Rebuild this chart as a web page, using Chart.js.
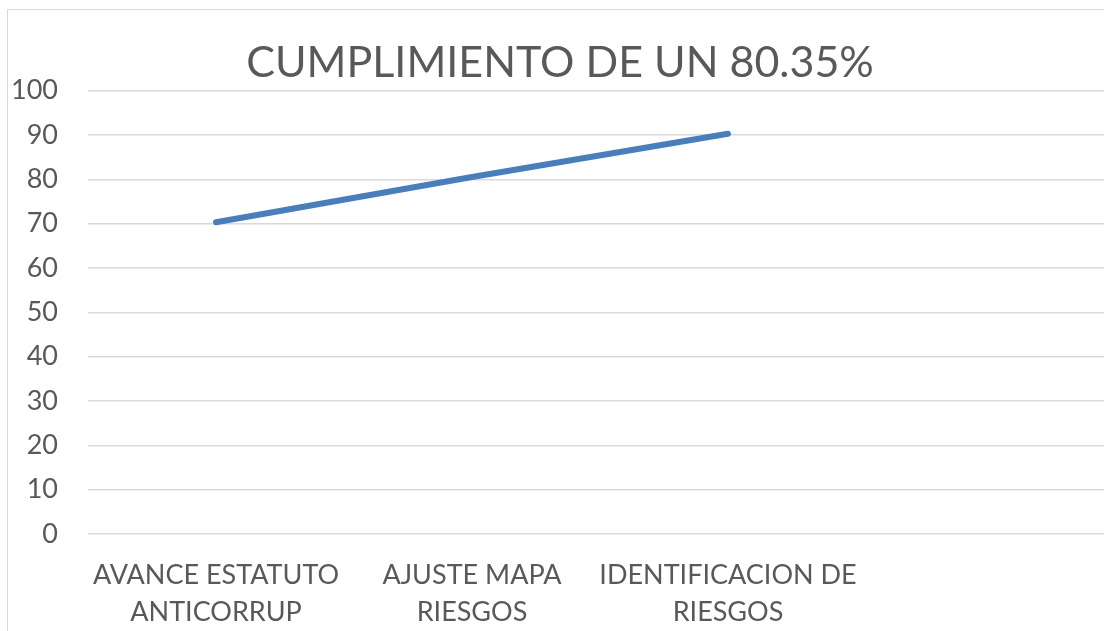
<!DOCTYPE html>
<html>
<head>
<meta charset="utf-8">
<script src="https://cdn.jsdelivr.net/npm/chart.js@4/dist/chart.umd.min.js"></script>
<style>
  html, body { margin: 0; padding: 0; background: #ffffff; overflow: hidden; }
  #frame {
    position: absolute; left: 7px; top: 9px;
    width: 1130px; height: 640px;
    border-left: 1px solid #d9d9d9; border-top: 1px solid #d9d9d9;
    background: #ffffff;
  }
  #wrap { position: absolute; left: 0; top: 0; width: 1112px; height: 630px; }
</style>
</head>
<body>
<div id="frame"><div id="wrap"><canvas id="chart"></canvas></div></div>
<script>
// Categories (one empty slot at the end, as in the workbook range)
const categories = [
  ['AVANCE ESTATUTO', 'ANTICORRUP'],
  ['AJUSTE MAPA', 'RIESGOS'],
  ['IDENTIFICACION DE', 'RIESGOS'],
  ''
];
// Percentage of compliance per item
const cumplimiento = [70.3, 80.5, 90.25, null];
// Value axis
const yTicks = [0, 10, 20, 30, 40, 50, 60, 70, 80, 90, 100];
const chartTitle = 'CUMPLIMIENTO DE UN 80.35%';

const FONT = 'Lato, "Open Sans", sans-serif';
const TEXT = '#595959';
const GRID = '#d9d9d9';

new Chart(document.getElementById('chart'), {
  type: 'line',
  data: {
    labels: categories,
    datasets: [{
      label: 'Cumplimiento',
      data: cumplimiento,
      borderColor: '#4a7ebb',
      backgroundColor: '#4a7ebb',
      borderWidth: 6,
      borderCapStyle: 'round',
      borderJoinStyle: 'round',
      pointRadius: 0,
      tension: 0,
      fill: false
    }]
  },
  options: {
    responsive: true,
    maintainAspectRatio: false,
    animation: false,
    layout: { padding: { left: 0, right: 8, top: 0, bottom: 0 } },
    plugins: {
      legend: { display: false },
      tooltip: { enabled: false },
      title: {
        display: true,
        text: chartTitle,
        color: TEXT,
        font: { family: FONT, size: 43, weight: 'normal', lineHeight: 1.2 },
        padding: { top: 27, bottom: 2 }
      }
    },
    scales: {
      x: {
        type: 'category',
        offset: true,
        grid: { display: false, drawTicks: false },
        border: { display: false },
        ticks: {
          color: TEXT,
          font: { family: FONT, size: 27, lineHeight: 1.4 },
          padding: 22,
          maxRotation: 0,
          autoSkip: false
        },
        afterFit: (s) => { s.height = 106; }
      },
      y: {
        min: 0,
        max: 100,
        afterBuildTicks: (s) => { s.ticks = yTicks.map(v => ({ value: v })); },
        grid: { color: GRID, lineWidth: 1.5, drawTicks: false },
        border: { display: false },
        ticks: {
          color: TEXT,
          font: { family: FONT, size: 27 },
          padding: 30
        },
        afterFit: (s) => { s.width = 80; }
      }
    }
  }
});
</script>
</body>
</html>
